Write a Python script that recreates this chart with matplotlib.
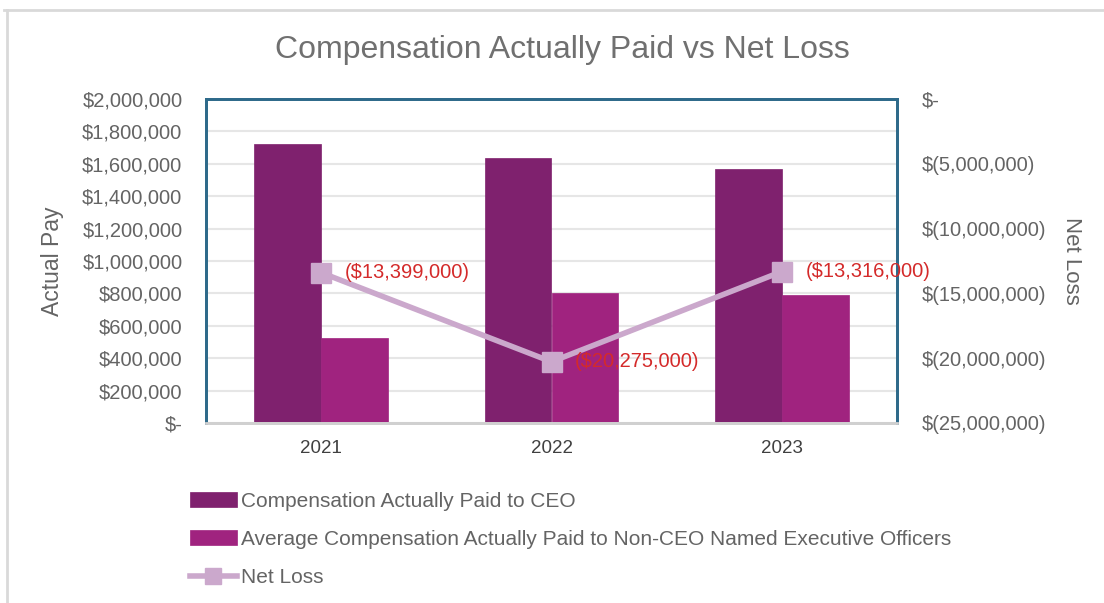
import numpy as np
import matplotlib
matplotlib.use("Agg")
import matplotlib.pyplot as plt
from matplotlib.ticker import FuncFormatter, MultipleLocator
from matplotlib.lines import Line2D

years = ["2021", "2022", "2023"]
ceo_pay = [1722000, 1636000, 1568000]
neo_pay = [525000, 802000, 790000]
net_loss = [-13399000, -20275000, -13316000]
loss_labels = ["($13,399,000)", "($20,275,000)", "($13,316,000)"]

ceo_color = "#7F216E"
neo_color = "#A0237F"
line_color = "#CBA8CC"
text_gray = "#646464"
label_red = "#D42A2A"
spine_blue = "#2E6A8A"

plt.rcParams['font.family'] = ['Liberation Sans', 'DejaVu Sans']

W, H = 1104, 603
fig = plt.figure(figsize=(W / 100, H / 100), dpi=100)
ax = fig.add_axes([206 / W, 1 - 423 / H, 691 / W, 324 / H])
ax2 = ax.twinx()

x = np.arange(len(years))
w = 0.29
ax.bar(x - w / 2, ceo_pay, w, color=ceo_color, edgecolor=ceo_color,
       linewidth=0.5, zorder=2, label="Compensation Actually Paid to CEO")
ax.bar(x + w / 2, neo_pay, w, color=neo_color, edgecolor=neo_color,
       linewidth=0.5, zorder=2,
       label="Average Compensation Actually Paid to Non-CEO Named Executive Officers")

ax.set_xlim(-0.5, 2.5)
ax.set_ylim(0, 2000000)
ax.yaxis.set_major_locator(MultipleLocator(200000))
ax.grid(axis='y', color="#E6E6E6", linewidth=1.5, zorder=0)
ax.set_axisbelow(True)


def left_fmt(v, pos):
    if v == 0:
        return "$-"
    return "${:,.0f}".format(v)


def right_fmt(v, pos):
    if v == 0:
        return "$-"
    return "$({:,.0f})".format(abs(v))


ax.yaxis.set_major_formatter(FuncFormatter(left_fmt))
ax.set_xticks(x)
ax.set_xticklabels(years)
ax.tick_params(axis='y', length=0, labelsize=14.5, colors=text_gray, pad=17)
ax.tick_params(axis='x', length=0, labelsize=13.5, colors="#404040", pad=12)

ax2.plot(x, net_loss, color=line_color, linewidth=4, marker='s',
         markersize=14.5, zorder=3, label="Net Loss")
ax2.set_ylim(-25000000, 0)
ax2.yaxis.set_major_locator(MultipleLocator(5000000))
ax2.yaxis.set_major_formatter(FuncFormatter(right_fmt))
ax2.tick_params(axis='y', length=0, labelsize=14.5, colors=text_gray, pad=18)
for xi, v, lab in zip(x, net_loss, loss_labels):
    ax2.annotate(lab, (xi, v), xytext=(17, 0), textcoords='offset points',
                 color=label_red, fontsize=14.5, va='center', ha='left')

for a in (ax, ax2):
    for s in ("top", "left", "right"):
        a.spines[s].set_color(spine_blue)
        a.spines[s].set_linewidth(2)
    a.spines["bottom"].set_color("#D0D0D0")
    a.spines["bottom"].set_linewidth(2)

fig.text(52 / W, 1 - 261 / H, "Actual Pay", rotation=90, ha='center',
         va='center', fontsize=16.5, color=text_gray)
fig.text(1072 / W, 1 - 261 / H, "Net Loss", rotation=270, ha='center',
         va='center', fontsize=16, color=text_gray)
fig.text(562 / W, 1 - 50 / H, "Compensation Actually Paid vs Net Loss",
         ha='center', va='center', fontsize=23, color="#707070")

h1, l1 = ax.get_legend_handles_labels()
h2 = [Line2D([], [], color=line_color, linewidth=4, marker='s', markersize=12)]
leg = fig.legend(h1 + h2, l1 + ["Net Loss"], loc='upper left',
                 bbox_to_anchor=(171 / W, 1 - 473 / H), frameon=False,
                 fontsize=15, labelcolor=text_gray, handlelength=2.26,
                 handleheight=0.72, handletextpad=0.2, labelspacing=0.92)

# light frame around the chart
fig.add_artist(Line2D([4 / W, 1], [1 - 10 / H, 1 - 10 / H],
                      transform=fig.transFigure, color="#D9D9D9", linewidth=2))
fig.add_artist(Line2D([7 / W, 7 / W], [0, 1 - 10 / H],
                      transform=fig.transFigure, color="#D9D9D9", linewidth=2))

fig.savefig("out.png", dpi=100)
